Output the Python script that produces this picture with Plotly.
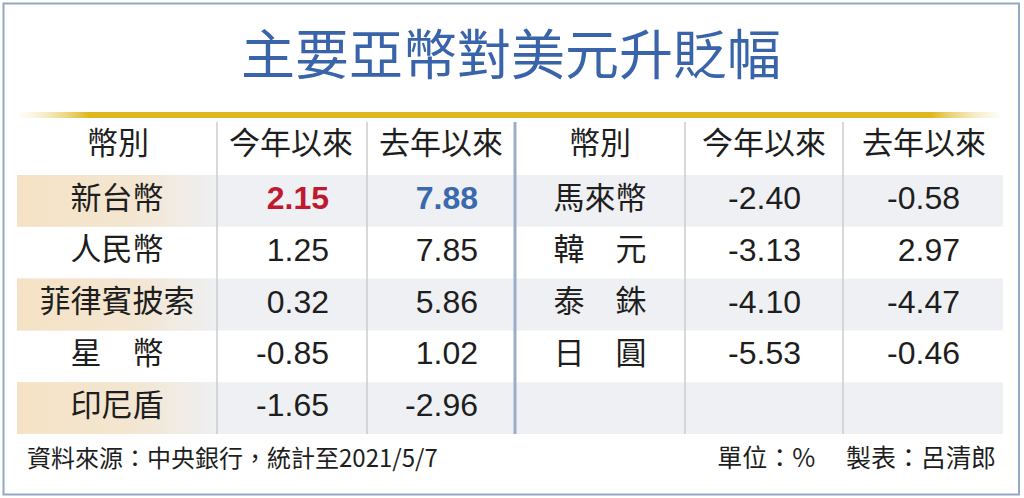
import plotly.graph_objects as go

# data
title = "主要亞幣對美元升貶幅"
headers = ["幣別", "今年以來", "去年以來"]

left_names = ["新台幣", "人民幣", "菲律賓披索", "星　幣", "印尼盾"]
left_ytd = [2.15, 1.25, 0.32, -0.85, -1.65]
left_last_year = [7.88, 7.85, 5.86, 1.02, -2.96]

right_names = ["馬來幣", "韓　元", "泰　銖", "日　圓"]
right_ytd = [-2.40, -3.13, -4.10, -5.53]
right_last_year = [-0.58, 2.97, -4.47, -0.46]

source_note = "資料來源：中央銀行，統計至2021/5/7"
unit_note = "單位：% 　製表：呂清郎"

# layout constants (pixel-like axis units)
W, H = 1024, 498
header_y = 146
row_top = 175
row_h = 51.8
n_rows = 5
table_bottom = row_top + row_h * n_rows
left_x = [17, 217, 367, 515]
right_x = [515, 685, 843, 1003]
left_name_x, left_ytd_x, left_last_x = 117, 329, 478
right_name_x, right_ytd_x, right_last_x = 600, 801, 960
left_head_x = [118, 291, 441]
right_head_x = [600, 764, 924]

CJK = "Noto Sans CJK TC"
NUM = "Liberation Sans, Arial"
TEXT_COLOR = "#1e1e1e"
GRAY_ROW = "#eef0f3"


def row_center(i):
    return row_top + row_h * (i + 0.5)


def fmt(v):
    return f"{v:.2f}"


fig = go.Figure()
shapes = []

# shaded rows (every other row)
for i in range(0, n_rows, 2):
    y0 = row_top + row_h * i
    shapes.append(dict(type="rect", xref="x", yref="y", x0=left_x[0], x1=right_x[-1],
                       y0=y0, y1=y0 + row_h, fillcolor=GRAY_ROW, line_width=0, layer="below"))


def grad_rect(x0, x1, y0, y1, colorscale):
    return go.Scatter(
        x=[x0, x1, x1, x0, x0], y=[y0, y0, y1, y1, y0],
        mode="lines", fill="toself",
        line=dict(width=0, color="rgba(0,0,0,0)"),
        fillgradient=dict(type="horizontal", colorscale=colorscale),
        hoverinfo="skip", showlegend=False,
    )


# beige tint on the first column of shaded rows
for i in range(0, n_rows, 2):
    y0 = row_top + row_h * i
    fig.add_trace(grad_rect(left_x[0], left_x[1], y0, y0 + row_h,
                            [[0, "#f5e2c4"], [0.6, "#f3e6d2"], [1, GRAY_ROW]]))

# gold rule under the title
fig.add_trace(grad_rect(20, 1000, 112, 118,
                        [[0, "rgba(240,225,170,0.1)"], [0.07, "#dfb820"],
                         [0.93, "#dfb820"], [1, "rgba(240,225,170,0.1)"]]))

# headers
fig.add_trace(go.Scatter(
    x=left_head_x + right_head_x, y=[header_y] * 6,
    text=headers + headers, mode="text", textposition="middle center",
    textfont=dict(family=CJK, size=31, color=TEXT_COLOR),
    hoverinfo="skip", showlegend=False,
))

# currency names
fig.add_trace(go.Scatter(
    x=[left_name_x] * len(left_names) + [right_name_x] * len(right_names),
    y=[row_center(i) for i in range(len(left_names))] + [row_center(i) for i in range(len(right_names))],
    text=left_names + right_names, mode="text", textposition="middle center",
    textfont=dict(family=CJK, size=31, color=TEXT_COLOR),
    hoverinfo="skip", showlegend=False,
))


# numbers (new taiwan dollar row highlighted)
def num_trace(x, vals, start=0):
    return go.Scatter(
        x=[x] * (len(vals) - start), y=[row_center(i) for i in range(start, len(vals))],
        text=[fmt(v) for v in vals[start:]], mode="text", textposition="middle left",
        textfont=dict(family=NUM, size=32, color=TEXT_COLOR),
        hoverinfo="skip", showlegend=False,
    )


fig.add_trace(num_trace(left_ytd_x, left_ytd, start=1))
fig.add_trace(num_trace(left_last_x, left_last_year, start=1))
fig.add_trace(num_trace(right_ytd_x, right_ytd))
fig.add_trace(num_trace(right_last_x, right_last_year))

fig.add_trace(go.Scatter(
    x=[left_ytd_x, left_last_x], y=[row_center(0)] * 2,
    text=[fmt(left_ytd[0]), fmt(left_last_year[0])], mode="text", textposition="middle left",
    textfont=dict(family=NUM, size=32, color=["#c0182e", "#3a69ae"], weight="bold"),
    hoverinfo="skip", showlegend=False,
))

# footer notes
fig.add_trace(go.Scatter(
    x=[27], y=[461], text=[source_note], mode="text", textposition="middle right",
    textfont=dict(family=CJK, size=24, color=TEXT_COLOR), hoverinfo="skip", showlegend=False,
))
fig.add_trace(go.Scatter(
    x=[996], y=[461], text=[unit_note], mode="text", textposition="middle left",
    textfont=dict(family=CJK, size=25, color=TEXT_COLOR), hoverinfo="skip", showlegend=False,
))

# title
fig.add_trace(go.Scatter(
    x=[W / 2 - 1], y=[61], text=[title], mode="text", textposition="middle center",
    textfont=dict(family=CJK, size=54, color="#3a64aa"), hoverinfo="skip", showlegend=False,
))

# column dividers
for x in left_x[1:3] + right_x[1:3]:
    shapes.append(dict(type="line", xref="x", yref="y", x0=x, x1=x, y0=122, y1=table_bottom,
                       line=dict(color="#cccccc", width=1.5)))
shapes.append(dict(type="line", xref="x", yref="y", x0=515, x1=515, y0=122, y1=table_bottom,
                   line=dict(color="#9aadcb", width=3)))

# outer frame
shapes.append(dict(type="rect", xref="x", yref="y", x0=3.5, x1=1019, y0=3.5, y1=494.5,
                   line=dict(color="#94a7c5", width=2), fillcolor="rgba(0,0,0,0)"))

fig.update_layout(
    width=W, height=H,
    margin=dict(l=0, r=0, t=0, b=0),
    paper_bgcolor="white", plot_bgcolor="white",
    xaxis=dict(range=[0, W], visible=False, fixedrange=True),
    yaxis=dict(range=[H, 0], visible=False, fixedrange=True),
    shapes=shapes,
    showlegend=False,
)

fig.write_html("out.html", config={"displayModeBar": False},
               post_script="document.body.style.margin='0';document.body.style.overflow='hidden';")
